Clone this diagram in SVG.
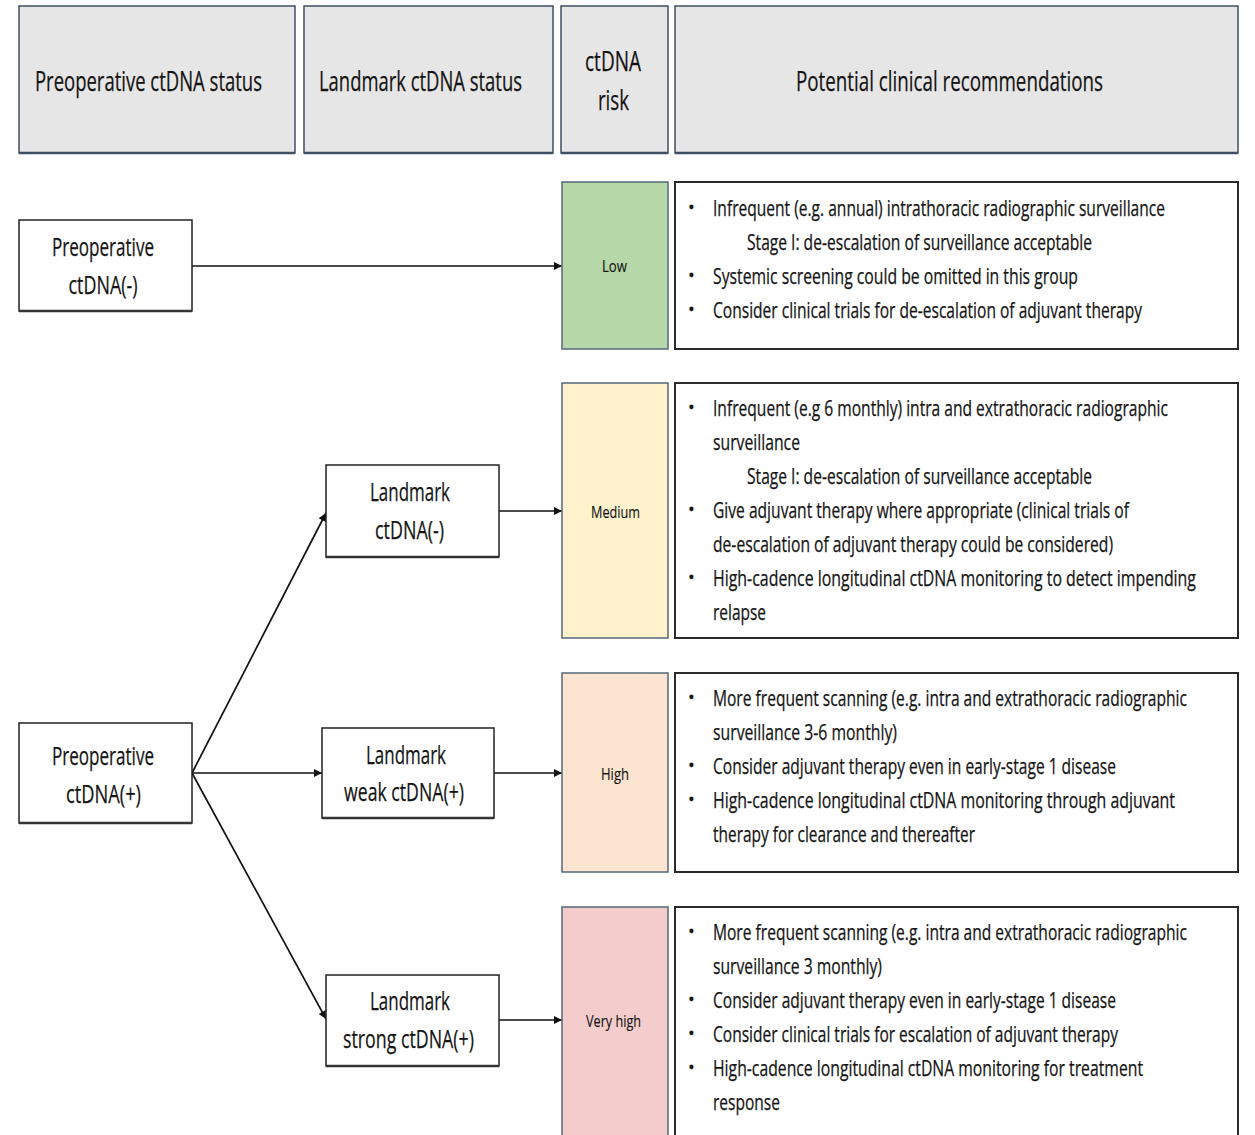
<svg xmlns="http://www.w3.org/2000/svg" width="1255" height="1135" viewBox="0 0 1255 1135">
  <defs>
    <marker id="arrow" viewBox="0 0 10 10" refX="10" refY="5" markerWidth="9" markerHeight="8" markerUnits="userSpaceOnUse" orient="auto">
      <path d="M0,0 L10,5 L0,10 z" fill="#111"/>
    </marker>
  </defs>
  <style>
    text { font-family: "Open Sans", "Noto Sans", "Liberation Sans", sans-serif; fill: #141414; stroke: #141414; stroke-width: 0.25; }
    .hdr rect { fill: #e7e6e6; stroke: #3f4f63; stroke-width: 1.5; }
    .hdr line { stroke: #3f4f63; stroke-width: 2.5; }
    .hdr text { font-size: 27px; text-anchor: middle; }
    .node rect { fill: #ffffff; stroke: #222; stroke-width: 1.5; }
    .node line { stroke: #333; stroke-width: 2.5; }
    .node text { font-size: 26px; text-anchor: middle; }
    .risk rect { stroke: #56677a; stroke-width: 1.5; }
    .risk text { font-size: 17px; text-anchor: middle; stroke-width: 0.15; }
    .rec rect { fill: #ffffff; stroke: #2a2a2a; stroke-width: 2; }
    .rec text { font-size: 21px; }
    .rec .dot { font-size: 18px; }
    .conn line { stroke: #111; stroke-width: 1.7; marker-end: url(#arrow); }
  </style>

  <!-- column headers -->
  <g id="hdr-preop" class="hdr">
    <rect x="19" y="6" width="276" height="147"/>
    <line x1="19" y1="153" x2="295" y2="153"/>
    <text x="148.5" y="91" textLength="227" lengthAdjust="spacingAndGlyphs">Preoperative ctDNA status</text>
  </g>
  <g id="hdr-landmark" class="hdr">
    <rect x="304" y="6" width="249" height="147"/>
    <line x1="304" y1="153" x2="553" y2="153"/>
    <text x="420.5" y="91" textLength="203" lengthAdjust="spacingAndGlyphs">Landmark ctDNA status</text>
  </g>
  <g id="hdr-risk" class="hdr">
    <rect x="561" y="6" width="107" height="147"/>
    <line x1="561" y1="153" x2="668" y2="153"/>
    <text x="613" y="71" textLength="56" lengthAdjust="spacingAndGlyphs">ctDNA</text>
    <text x="613.5" y="110" textLength="31" lengthAdjust="spacingAndGlyphs">risk</text>
  </g>
  <g id="hdr-recs" class="hdr">
    <rect x="675" y="6" width="563" height="147"/>
    <line x1="675" y1="153" x2="1238" y2="153"/>
    <text x="949.5" y="91" textLength="307" lengthAdjust="spacingAndGlyphs">Potential clinical recommendations</text>
  </g>

  <!-- connectors -->
  <g id="connectors" class="conn">
    <line x1="192" y1="266" x2="562" y2="266"/>
    <line x1="192" y1="773" x2="326" y2="513"/>
    <line x1="192" y1="773" x2="322" y2="773"/>
    <line x1="192" y1="773" x2="326" y2="1019"/>
    <line x1="499" y1="511" x2="562" y2="511"/>
    <line x1="494" y1="773" x2="562" y2="773"/>
    <line x1="499" y1="1020" x2="562" y2="1020"/>
  </g>

  <!-- status nodes -->
  <g id="preop-neg" class="node">
    <rect x="19" y="220" width="173" height="91"/>
    <line x1="19" y1="311" x2="192" y2="311"/>
    <text x="103" y="256" textLength="102" lengthAdjust="spacingAndGlyphs">Preoperative</text>
    <text x="103" y="294" textLength="69" lengthAdjust="spacingAndGlyphs">ctDNA(-)</text>
  </g>
  <g id="preop-pos" class="node">
    <rect x="19" y="723" width="173" height="100"/>
    <line x1="19" y1="823" x2="192" y2="823"/>
    <text x="103" y="765" textLength="102" lengthAdjust="spacingAndGlyphs">Preoperative</text>
    <text x="103.5" y="803" textLength="75" lengthAdjust="spacingAndGlyphs">ctDNA(+)</text>
  </g>
  <g id="landmark-neg" class="node">
    <rect x="326" y="465" width="173" height="92"/>
    <line x1="326" y1="557" x2="499" y2="557"/>
    <text x="410" y="501" textLength="80" lengthAdjust="spacingAndGlyphs">Landmark</text>
    <text x="409.5" y="539" textLength="69" lengthAdjust="spacingAndGlyphs">ctDNA(-)</text>
  </g>
  <g id="landmark-weak" class="node">
    <rect x="322" y="728" width="172" height="90"/>
    <line x1="322" y1="818" x2="494" y2="818"/>
    <text x="406" y="764" textLength="80" lengthAdjust="spacingAndGlyphs">Landmark</text>
    <text x="404" y="801" textLength="120" lengthAdjust="spacingAndGlyphs">weak ctDNA(+)</text>
  </g>
  <g id="landmark-strong" class="node">
    <rect x="326" y="975" width="173" height="91"/>
    <line x1="326" y1="1066" x2="499" y2="1066"/>
    <text x="410" y="1010" textLength="80" lengthAdjust="spacingAndGlyphs">Landmark</text>
    <text x="408.5" y="1048" textLength="131" lengthAdjust="spacingAndGlyphs">strong ctDNA(+)</text>
  </g>

  <!-- risk levels -->
  <g id="risk-low" class="risk">
    <rect x="562" y="182" width="106" height="167" fill="#b6d7a8"/>
    <text x="614.5" y="272" textLength="25" lengthAdjust="spacingAndGlyphs">Low</text>
  </g>
  <g id="risk-medium" class="risk">
    <rect x="562" y="383" width="106" height="255" fill="#fff2cc"/>
    <text x="615.5" y="518" textLength="49" lengthAdjust="spacingAndGlyphs">Medium</text>
  </g>
  <g id="risk-high" class="risk">
    <rect x="562" y="673" width="106" height="199" fill="#fbe4d0"/>
    <text x="615" y="780" textLength="28" lengthAdjust="spacingAndGlyphs">High</text>
  </g>
  <g id="risk-veryhigh" class="risk">
    <rect x="562" y="907" width="106" height="240" fill="#f4cccc"/>
    <text x="613.5" y="1027" textLength="55" lengthAdjust="spacingAndGlyphs">Very high</text>
  </g>

  <!-- recommendations -->
  <g id="rec-low" class="rec">
    <rect x="675" y="182" width="563" height="167"/>
    <text class="dot" x="688" y="214">•</text>
    <text x="713" y="216" textLength="452" lengthAdjust="spacingAndGlyphs">Infrequent (e.g. annual) intrathoracic radiographic surveillance</text>
    <text x="747" y="250" textLength="345" lengthAdjust="spacingAndGlyphs">Stage I: de-escalation of surveillance acceptable</text>
    <text class="dot" x="688" y="282">•</text>
    <text x="713" y="284" textLength="365" lengthAdjust="spacingAndGlyphs">Systemic screening could be omitted in this group</text>
    <text class="dot" x="688" y="316">•</text>
    <text x="713" y="318" textLength="429" lengthAdjust="spacingAndGlyphs">Consider clinical trials for de-escalation of adjuvant therapy</text>
  </g>
  <g id="rec-medium" class="rec">
    <rect x="675" y="383" width="563" height="255"/>
    <text class="dot" x="688" y="414">•</text>
    <text x="713" y="416" textLength="455" lengthAdjust="spacingAndGlyphs">Infrequent (e.g 6 monthly) intra and extrathoracic radiographic</text>
    <text x="713" y="450" textLength="87" lengthAdjust="spacingAndGlyphs">surveillance</text>
    <text x="747" y="484" textLength="345" lengthAdjust="spacingAndGlyphs">Stage I: de-escalation of surveillance acceptable</text>
    <text class="dot" x="688" y="516">•</text>
    <text x="713" y="518" textLength="416" lengthAdjust="spacingAndGlyphs">Give adjuvant therapy where appropriate (clinical trials of</text>
    <text x="713" y="552" textLength="400" lengthAdjust="spacingAndGlyphs">de-escalation of adjuvant therapy could be considered)</text>
    <text class="dot" x="688" y="584">•</text>
    <text x="713" y="586" textLength="483" lengthAdjust="spacingAndGlyphs">High-cadence longitudinal ctDNA monitoring to detect impending</text>
    <text x="713" y="620" textLength="53" lengthAdjust="spacingAndGlyphs">relapse</text>
  </g>
  <g id="rec-high" class="rec">
    <rect x="675" y="673" width="563" height="199"/>
    <text class="dot" x="688" y="704">•</text>
    <text x="713" y="706" textLength="474" lengthAdjust="spacingAndGlyphs">More frequent scanning (e.g. intra and extrathoracic radiographic</text>
    <text x="713" y="740" textLength="184" lengthAdjust="spacingAndGlyphs">surveillance 3-6 monthly)</text>
    <text class="dot" x="688" y="772">•</text>
    <text x="713" y="774" textLength="403" lengthAdjust="spacingAndGlyphs">Consider adjuvant therapy even in early-stage 1 disease</text>
    <text class="dot" x="688" y="806">•</text>
    <text x="713" y="808" textLength="462" lengthAdjust="spacingAndGlyphs">High-cadence longitudinal ctDNA monitoring through adjuvant</text>
    <text x="713" y="842" textLength="262" lengthAdjust="spacingAndGlyphs">therapy for clearance and thereafter</text>
  </g>
  <g id="rec-veryhigh" class="rec">
    <rect x="675" y="907" width="563" height="240"/>
    <text class="dot" x="688" y="938">•</text>
    <text x="713" y="940" textLength="474" lengthAdjust="spacingAndGlyphs">More frequent scanning (e.g. intra and extrathoracic radiographic</text>
    <text x="713" y="974" textLength="169" lengthAdjust="spacingAndGlyphs">surveillance 3 monthly)</text>
    <text class="dot" x="688" y="1006">•</text>
    <text x="713" y="1008" textLength="403" lengthAdjust="spacingAndGlyphs">Consider adjuvant therapy even in early-stage 1 disease</text>
    <text class="dot" x="688" y="1040">•</text>
    <text x="713" y="1042" textLength="405" lengthAdjust="spacingAndGlyphs">Consider clinical trials for escalation of adjuvant therapy</text>
    <text class="dot" x="688" y="1074">•</text>
    <text x="713" y="1076" textLength="430" lengthAdjust="spacingAndGlyphs">High-cadence longitudinal ctDNA monitoring for treatment</text>
    <text x="713" y="1110" textLength="67" lengthAdjust="spacingAndGlyphs">response</text>
  </g>
</svg>
